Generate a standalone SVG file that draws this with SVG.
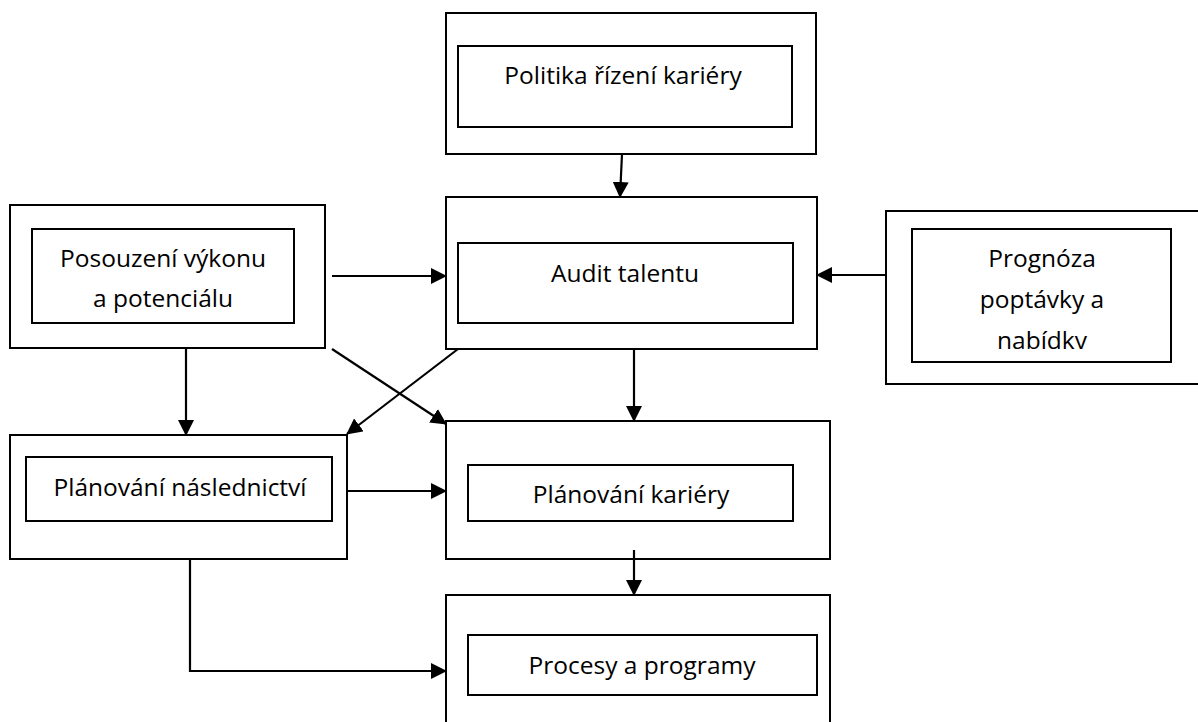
<svg xmlns="http://www.w3.org/2000/svg" width="1198" height="722" viewBox="0 0 1198 722">
<style>
.box{fill:none;stroke:#000;stroke-width:2}
.inner{fill:none;stroke:#000;stroke-width:2}
.lbl{font-family:"Open Sans","Liberation Sans",sans-serif;font-size:24.5px;fill:#000;text-anchor:middle}
.con{fill:none;stroke:#000;stroke-width:2.2}
</style>
<defs>
<marker id="ah" markerUnits="userSpaceOnUse" markerWidth="16" markerHeight="16" viewBox="0 0 16 16" refX="15" refY="8" orient="auto">
<path d="M0,0 L16,8 L0,16 Z" fill="#000"/>
</marker>
<clipPath id="clipProg"><rect x="912" y="229" width="259" height="120"/></clipPath>
</defs>
<rect width="1198" height="722" fill="#fff"/>
<g id="politika">
<rect class="box" x="446" y="13" width="370" height="141"/>
<rect class="inner" x="458" y="46" width="334" height="81"/>
<text class="lbl" x="623" y="84">Politika řízení kariéry</text>
</g>
<g id="audit">
<rect class="box" x="446" y="197" width="371" height="152"/>
<rect class="inner" x="458" y="243" width="335" height="80"/>
<text class="lbl" x="625" y="282">Audit talentu</text>
</g>
<g id="posouzeni">
<rect class="box" x="10" y="205" width="315" height="143"/>
<rect class="inner" x="32" y="229" width="262" height="94"/>
<text class="lbl" x="163" y="267">Posouzení výkonu</text>
<text class="lbl" x="163" y="307">a potenciálu</text>
</g>
<g id="prognoza">
<rect class="box" x="886" y="211" width="320" height="173"/>
<rect class="inner" x="912" y="229" width="259" height="133"/>
<g clip-path="url(#clipProg)">
<text class="lbl" x="1042" y="267">Prognóza</text>
<text class="lbl" x="1042" y="308">poptávky a</text>
<text class="lbl" x="1042" y="349">nabídky</text>
</g>
</g>
<g id="naslednictvi">
<rect class="box" x="10" y="435" width="337" height="124"/>
<rect class="inner" x="26" y="457" width="306" height="64"/>
<text class="lbl" x="180" y="496">Plánování následnictví</text>
</g>
<g id="kariera">
<rect class="box" x="446" y="421" width="384" height="138"/>
<rect class="inner" x="468" y="465" width="325" height="56"/>
<text class="lbl" x="631" y="503">Plánování kariéry</text>
</g>
<g id="procesy">
<rect class="box" x="446" y="595" width="384" height="135"/>
<rect class="inner" x="468" y="635" width="349" height="60"/>
<text class="lbl" x="642" y="674">Procesy a programy</text>
</g>
<g id="connectors">
<line class="con" x1="622" y1="154" x2="620" y2="197" marker-end="url(#ah)"/>
<line class="con" x1="332" y1="276" x2="446" y2="276" marker-end="url(#ah)"/>
<line class="con" x1="886" y1="275" x2="817" y2="275" marker-end="url(#ah)"/>
<line class="con" x1="186" y1="348" x2="186" y2="435" marker-end="url(#ah)"/>
<line class="con" x1="332" y1="349" x2="446" y2="424" marker-end="url(#ah)"/>
<line class="con" x1="458" y1="349" x2="347" y2="434" marker-end="url(#ah)"/>
<line class="con" x1="634" y1="349" x2="634" y2="421" marker-end="url(#ah)"/>
<line class="con" x1="347" y1="491" x2="446" y2="491" marker-end="url(#ah)"/>
<line class="con" x1="634" y1="550" x2="634" y2="595" marker-end="url(#ah)"/>
<path class="con" d="M122,559 H190 V671 H446" marker-end="url(#ah)"/>
</g>
</svg>
